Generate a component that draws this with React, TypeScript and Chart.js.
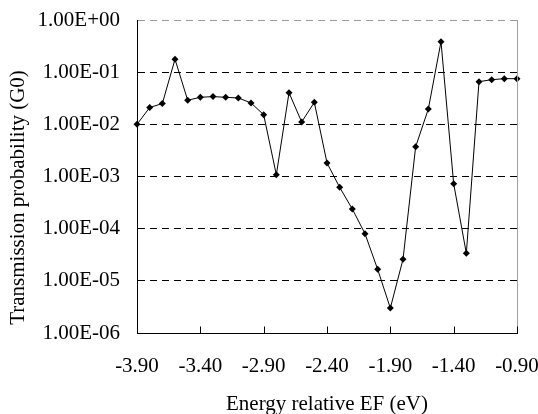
import React, { useEffect, useRef } from "react";
import { Chart, registerables } from "chart.js";

Chart.register(...registerables);

const energies = [
  -3.9, -3.8, -3.7, -3.6, -3.5, -3.4, -3.3, -3.2, -3.1, -3.0,
  -2.9, -2.8, -2.7, -2.6, -2.5, -2.4, -2.3, -2.2, -2.1, -2.0,
  -1.9, -1.8, -1.7, -1.6, -1.5, -1.4, -1.3, -1.2, -1.1, -1.0, -0.9,
];

const transmission = [
  0.0100, 0.021, 0.025, 0.177, 0.029, 0.033, 0.034, 0.033, 0.032, 0.0257,
  0.0153, 0.00108, 0.0404, 0.0111, 0.0264, 0.00182, 0.00062, 0.000238, 0.000080, 0.0000166,
  0.0000030, 0.0000259, 0.00373, 0.0197, 0.384, 0.00073, 0.0000337, 0.0657, 0.0718, 0.075, 0.075,
];

const xTicks = [-3.9, -3.4, -2.9, -2.4, -1.9, -1.4, -0.9];
const xTickLabels = ["-3.90", "-3.40", "-2.90", "-2.40", "-1.90", "-1.40", "-0.90"];
const yTicks = [1e-6, 1e-5, 1e-4, 1e-3, 1e-2, 1e-1, 1];
const yTickLabels = ["1.00E-06", "1.00E-05", "1.00E-04", "1.00E-03", "1.00E-02", "1.00E-01", "1.00E+00"];

const xTitle = "Energy relative EF (eV)";
const yTitle = "Transmission probability (G0)";

const FONT = "'Liberation Serif', 'Times New Roman', serif";

const decorPlugin = {
  id: "decor",
  afterDatasetsDraw(chart: any) {
    const { ctx, chartArea, scales } = chart;
    ctx.save();
    // right border of plot area
    ctx.strokeStyle = "#a0a0a0";
    ctx.lineWidth = 1;
    ctx.beginPath();
    ctx.moveTo(Math.round(chartArea.right) + 0.5, chartArea.top);
    ctx.lineTo(Math.round(chartArea.right) + 0.5, chartArea.bottom);
    ctx.stroke();
    // inward x tick marks
    ctx.strokeStyle = "#000";
    const xs = scales.x;
    const yb = Math.round(chartArea.bottom) + 0.5;
    for (const v of xTicks) {
      const px = Math.round(xs.getPixelForValue(v)) + 0.5;
      ctx.beginPath();
      ctx.moveTo(px, yb);
      ctx.lineTo(px, yb - 7);
      ctx.stroke();
    }
    // y axis title
    ctx.fillStyle = "#000";
    ctx.font = `21px ${FONT}`;
    ctx.textAlign = "center";
    ctx.textBaseline = "middle";
    ctx.translate(18, (chartArea.top + chartArea.bottom) / 2 + 21);
    ctx.rotate(-Math.PI / 2);
    ctx.fillText(yTitle, 0, 0);
    ctx.restore();
  },
};

export default function App() {
  const ref = useRef<HTMLCanvasElement>(null);
  useEffect(() => {
    document.body.style.margin = "0";
    const chart = new Chart(ref.current!, {
      type: "line",
      data: {
        datasets: [
          {
            data: energies.map((e, i) => ({ x: e, y: transmission[i] })),
            borderColor: "#000",
            backgroundColor: "#000",
            borderWidth: 1,
            pointStyle: "rectRot",
            pointRadius: 3.5,
            pointBorderWidth: 0,
            tension: 0,
            clip: false as any,
          },
        ],
      },
      options: {
        animation: false,
        responsive: false,
        layout: { padding: { left: 0, top: 20, right: 21, bottom: 0 } },
        plugins: { legend: { display: false }, tooltip: { enabled: false } },
        scales: {
          x: {
            type: "linear",
            min: -3.9,
            max: -0.9,
            afterBuildTicks: (s: any) => {
              s.ticks = xTicks.map((v) => ({ value: v }));
            },
            afterFit: (s: any) => {
              s.height = 81;
              s.paddingLeft = 0;
              s.paddingRight = 0;
            },
            grid: { display: true, drawOnChartArea: false, drawTicks: false },
            border: { display: true, color: "#000", width: 1 },
            ticks: {
              padding: 21,
              color: "#000",
              font: { family: FONT, size: 21 },
              maxRotation: 0,
              autoSkip: false,
              callback: (v: any) => {
                const i = xTicks.findIndex((t) => Math.abs(t - v) < 1e-9);
                return i >= 0 ? xTickLabels[i] : "";
              },
            },
            title: {
              display: true,
              text: xTitle,
              color: "#000",
              font: { family: FONT, size: 21, lineHeight: 1 },
              padding: { top: 0, bottom: -1 },
            },
          },
          y: {
            type: "logarithmic",
            min: 1e-6,
            max: 1,
            afterBuildTicks: (s: any) => {
              s.ticks = yTicks.map((v) => ({ value: v }));
            },
            afterFit: (s: any) => {
              s.width = 137;
              s.paddingTop = 0;
              s.paddingBottom = 0;
            },
            grid: {
              color: (c: any) => (c.tick && c.tick.value === 1 ? "#999" : "#000"),
              lineWidth: 1,
              drawTicks: false,
            },
            border: { display: true, color: "#000", width: 1, dash: [7, 5] },
            ticks: {
              padding: 17,
              color: "#000",
              font: { family: FONT, size: 21 },
              autoSkip: false,
              callback: (v: any) => {
                const i = yTicks.findIndex((t) => Math.abs(Math.log10(t) - Math.log10(v)) < 1e-6);
                return i >= 0 ? yTickLabels[i] : "";
              },
            },
            title: { display: false },
          },
        },
      },
      plugins: [decorPlugin],
    });
    return () => chart.destroy();
  }, []);
  return (
    <div style={{ width: 538, height: 414 }}>
      <canvas ref={ref} width={538} height={414} style={{ display: "block" }} />
    </div>
  );
}
